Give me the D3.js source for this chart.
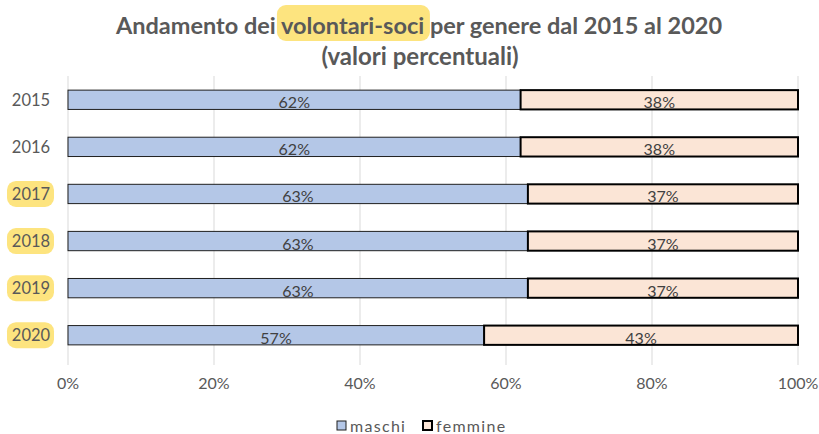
<!DOCTYPE html>
<html>
<head>
<meta charset="utf-8">
<script src="https://cdn.jsdelivr.net/npm/d3@7"></script>
<style>
  html, body { margin: 0; padding: 0; background: #fff; }
  svg { display: block; font-family: Lato, "Open Sans", sans-serif; }
</style>
</head>
<body>
<svg id="chart" width="819" height="434"></svg>
<script>
// Andamento dei volontari-soci per genere (valori percentuali)
const years = ["2015", "2016", "2017", "2018", "2019", "2020"];
const maschi = [62, 62, 63, 63, 63, 57];
const femmine = [38, 38, 37, 37, 37, 43];
const highlightedYears = ["2017", "2018", "2019", "2020"];
const xTicks = [0, 20, 40, 60, 80, 100];
const seriesNames = ["maschi", "femmine"];

const svg = d3.select("#chart");
const plot = { left: 68, right: 798, top: 76, bottom: 359 };

const x = d3.scaleLinear().domain([0, 100]).range([plot.left, plot.right]);
const y = d3.scaleBand().domain(years).range([plot.top, plot.bottom]).paddingInner(0.59).paddingOuter(0.3);

const grey = "#595959";
const labelColor = "#404040";
const hl = "#fde47f";

// title with highlighted word
const title = svg.append("g");
const t1 = title.append("text")
  .attr("x", 419).attr("y", 34)
  .attr("text-anchor", "middle")
  .attr("font-size", 23.5).attr("font-weight", 700)
  .attr("fill", grey);
t1.append("tspan").text("Andamento dei ");
t1.append("tspan").text("volontari-soci");
t1.append("tspan").text(" per genere dal 2015 al 2020");
title.append("text")
  .attr("x", 420).attr("y", 65)
  .attr("text-anchor", "middle")
  .attr("font-size", 24).attr("font-weight", 700)
  .attr("fill", grey)
  .text("(valori percentuali)");

// highlight behind "volontari-soci"
{
  const n = t1.node();
  const full = "Andamento dei ";
  const start = n.getStartPositionOfChar(full.length);
  const end = n.getEndPositionOfChar(full.length + "volontari-soci".length);
  title.insert("rect", "text")
    .attr("x", start.x - 4).attr("y", 5)
    .attr("width", end.x - start.x + 4).attr("height", 36)
    .attr("rx", 9).attr("fill", hl);
}

// gridlines
svg.append("g").selectAll("line")
  .data(xTicks).join("line")
  .attr("x1", d => x(d)).attr("x2", d => x(d))
  .attr("y1", 76).attr("y2", 365)
  .attr("stroke", "#d9d9d9").attr("stroke-width", 1);

// x axis labels
svg.append("g").selectAll("text")
  .data(xTicks).join("text")
  .attr("x", d => x(d)).attr("y", 389)
  .attr("text-anchor", "middle")
  .attr("font-size", 16).attr("fill", grey)
  .text(d => d + "%");

// year labels with highlight pills
const yl = svg.append("g");
yl.selectAll("rect")
  .data(years.filter(d => highlightedYears.includes(d))).join("rect")
  .attr("x", 7).attr("y", d => y(d) + y.bandwidth() / 2 - 13)
  .attr("width", 47).attr("height", 26).attr("rx", 9)
  .attr("fill", hl);
yl.selectAll("text")
  .data(years).join("text")
  .attr("x", 31).attr("y", d => y(d) + y.bandwidth() / 2 + 6)
  .attr("text-anchor", "middle")
  .attr("font-size", 16.5).attr("fill", grey)
  .text(d => d);

// stacked bars
const rows = years.map((yr, i) => ({ yr, m: maschi[i], f: femmine[i] }));
const bars = svg.append("g");
bars.selectAll("rect.m")
  .data(rows).join("rect").attr("class", "m")
  .attr("x", x(0)).attr("y", d => y(d.yr))
  .attr("width", d => x(d.m) - x(0)).attr("height", y.bandwidth())
  .attr("fill", "#b4c7e7").attr("stroke", "#1f1f1f").attr("stroke-width", 1);
bars.selectAll("rect.f")
  .data(rows).join("rect").attr("class", "f")
  .attr("x", d => x(d.m)).attr("y", d => y(d.yr))
  .attr("width", d => x(d.m + d.f) - x(d.m)).attr("height", y.bandwidth())
  .attr("fill", "#fbe5d6").attr("stroke", "#000").attr("stroke-width", 2);

// value labels
bars.selectAll("text.m")
  .data(rows).join("text").attr("class", "m")
  .attr("x", d => (x(0) + x(d.m)) / 2).attr("y", d => y(d.yr) + y.bandwidth() / 2 + 8.5)
  .attr("text-anchor", "middle").attr("font-size", 16).attr("fill", labelColor)
  .text(d => d.m + "%");
bars.selectAll("text.f")
  .data(rows).join("text").attr("class", "f")
  .attr("x", d => (x(d.m) + x(d.m + d.f)) / 2).attr("y", d => y(d.yr) + y.bandwidth() / 2 + 8.5)
  .attr("text-anchor", "middle").attr("font-size", 16).attr("fill", labelColor)
  .text(d => d.f + "%");

// legend
const legend = svg.append("g");
const legendItems = [
  { name: seriesNames[0], fill: "#b4c7e7", stroke: "#1f1f1f", sw: 1, x: 337 },
  { name: seriesNames[1], fill: "#fbe5d6", stroke: "#000", sw: 2, x: 423 }
];
legendItems.forEach(d => {
  legend.append("rect")
    .attr("x", d.x).attr("y", 421).attr("width", 9).attr("height", 9)
    .attr("fill", d.fill).attr("stroke", d.stroke).attr("stroke-width", d.sw);
  legend.append("text")
    .attr("x", d.x + 13).attr("y", 432)
    .attr("font-size", 16).attr("letter-spacing", 1.3).attr("fill", grey)
    .text(d.name);
});
</script>
</body>
</html>
